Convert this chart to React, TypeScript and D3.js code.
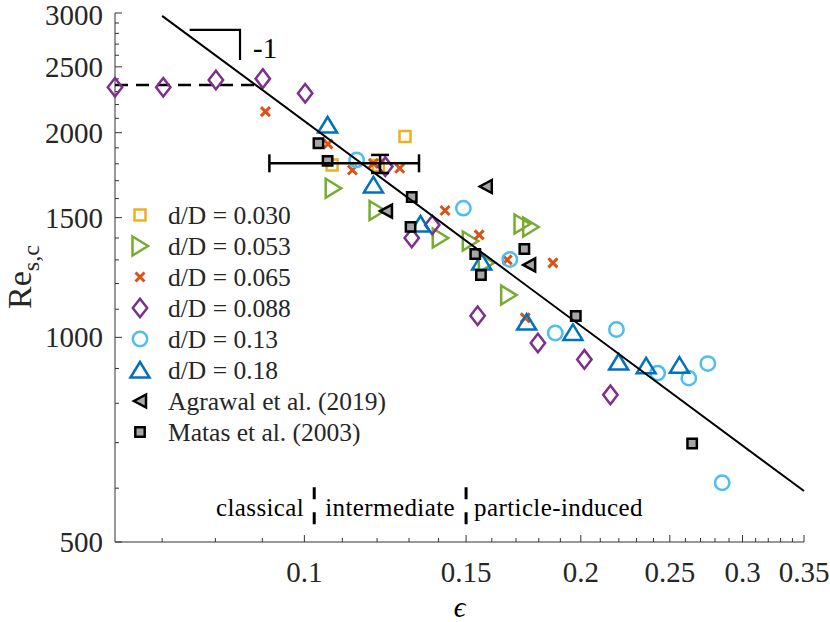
import * as d3 from 'd3';
import React, { useEffect, useRef } from 'react';

type Pt = [number, number];

// [epsilon, Re_s,c]
const dD030: Pt[] = [[0.1287, 1974], [0.1072, 1793], [0.1204, 1790]];
const dD053: Pt[] = [
  [0.1075, 1657], [0.12, 1537], [0.1406, 1400], [0.1516, 1386], [0.1578, 1287],
  [0.1726, 1468], [0.1764, 1453], [0.1669, 1154],
];
const dD065: Pt[] = [
  [0.0907, 2148], [0.1061, 1925], [0.1128, 1763], [0.1189, 1803], [0.127, 1773],
  [0.1423, 1537], [0.155, 1415], [0.1663, 1300], [0.1865, 1287], [0.174, 1068],
];
const dD088: Pt[] = [
  [0.0622, 2333], [0.0702, 2333], [0.0801, 2391], [0.0901, 2402], [0.1002, 2286],
  [0.1225, 1783], [0.1378, 1463], [0.1309, 1400], [0.1544, 1076], [0.1796, 981],
  [0.2018, 928], [0.2154, 823],
];
const dD13: Pt[] = [
  [0.114, 1824], [0.149, 1549], [0.1674, 1302], [0.1876, 1015], [0.2187, 1027],
  [0.2425, 886], [0.2622, 871], [0.275, 915], [0.2851, 611],
];
const dD18: Pt[] = [
  [0.106, 2053], [0.1189, 1676], [0.1338, 1468], [0.156, 1291], [0.1746, 1053],
  [0.1961, 1017], [0.2199, 920], [0.2356, 908], [0.2561, 910],
];
const agrawal: Pt[] = [[0.1227, 1534], [0.1576, 1667], [0.1757, 1278]];
const matas: Pt[] = [
  [0.1036, 1930], [0.106, 1818], [0.1309, 1609], [0.1305, 1454], [0.1535, 1326],
  [0.1557, 1235], [0.1736, 1349], [0.1975, 1075], [0.2644, 698],
];

const legendLabels = [
  'd/D = 0.030', 'd/D = 0.053', 'd/D = 0.065', 'd/D = 0.088',
  'd/D = 0.13', 'd/D = 0.18', 'Agrawal et al. (2019)', 'Matas et al. (2003)',
];

const xMajor = [0.1, 0.15, 0.2, 0.25, 0.3, 0.35];
const yMajor = [500, 1000, 1500, 2000, 2500, 3000];

const fitC = 208; // Re = C / eps
const fitRange: Pt = [0.07, 0.35];
const onsetRe = 2350;
const onsetRange: Pt = [0.0622, 0.0885];
const errCenter: Pt = [0.1209, 1803];
const errEps: Pt = [0.0916, 0.1333];
const errRe: Pt = [1745, 1855];
const slopeTri: Pt[] = [[0.075, 2833], [0.0851, 2833], [0.0851, 2559]];
const regimeBounds = [0.1025, 0.15];
const regimeLabels = ['classical', 'intermediate', 'particle-induced'];
const regimeRe: Pt = [526, 602];

const width = 830;
const height = 622;
const margin = { top: 13, right: 26, bottom: 80, left: 115 };
const font = 'Liberation Serif';

const shapes: Record<string, string> = {
  square: 'M-5.5,-5.5H5.5V5.5H-5.5Z',
  right: 'M-7.5,-9.5L8,0L-7.5,9.5Z',
  cross: 'M-4.5,-4.5L4.5,4.5M-4.5,4.5L4.5,-4.5',
  diamond: 'M0,-9.3L7.2,0L0,9.3L-7.2,0Z',
  circle: 'M7.2,0A7.2,7.2 0 1,1 -7.2,0A7.2,7.2 0 1,1 7.2,0Z',
  up: 'M-9.5,7.5L0,-8L9.5,7.5Z',
  left: 'M6,-6.5L-6,0L6,6.5Z',
  msq: 'M-4.7,-4.7H4.7V4.7H-4.7Z',
};

const series = [
  { data: dD030, shape: 'square', stroke: '#EDB120', fill: 'none', sw: 2.5 },
  { data: dD053, shape: 'right', stroke: '#77AC30', fill: 'none', sw: 2.5 },
  { data: dD065, shape: 'cross', stroke: '#D95319', fill: 'none', sw: 3 },
  { data: dD088, shape: 'diamond', stroke: '#7E2F8E', fill: 'none', sw: 2.5 },
  { data: dD13, shape: 'circle', stroke: '#4DBEEE', fill: 'none', sw: 2.5 },
  { data: dD18, shape: 'up', stroke: '#0072BD', fill: 'none', sw: 2.5 },
  { data: agrawal, shape: 'left', stroke: '#000', fill: '#a6a6a6', sw: 2.5 },
  { data: matas, shape: 'msq', stroke: '#000', fill: '#a6a6a6', sw: 2.5 },
];

const App: React.FC = () => {
  const ref = useRef<SVGSVGElement>(null);
  useEffect(() => {
    const svg = d3.select(ref.current);
    svg.selectAll('*').remove();
    const x = d3.scaleLog().domain([0.0622, 0.35]).range([margin.left, width - margin.right]);
    const y = d3.scaleLog().domain([500, 3000]).range([height - margin.bottom, margin.top]);
    const x0 = margin.left;
    const y0 = height - margin.bottom;

    // axes
    const ax = svg.append('g').attr('stroke', '#333').attr('stroke-width', 1);
    ax.append('line').attr('x1', x0).attr('x2', x(0.35)).attr('y1', y0).attr('y2', y0);
    ax.append('line').attr('x1', x0).attr('x2', x0).attr('y1', y0).attr('y2', y(3000));
    const xMinor = d3.range(7, 36).map((d) => d / 100);
    xMinor.forEach((t) => {
      const major = xMajor.some((m) => Math.abs(m - t) < 1e-9);
      ax.append('line').attr('x1', x(t)).attr('x2', x(t)).attr('y1', y0).attr('y2', y0 - (major ? 7 : 4));
    });
    const yMinor = d3.range(5, 31).map((d) => d * 100);
    yMinor.forEach((t) => {
      const major = yMajor.includes(t);
      ax.append('line').attr('x1', x0).attr('x2', x0 + (major ? 7 : 4)).attr('y1', y(t)).attr('y2', y(t));
    });
    svg
      .append('g')
      .selectAll('text')
      .data(xMajor)
      .join('text')
      .attr('x', (d) => x(d))
      .attr('y', y0 + 40)
      .attr('text-anchor', 'middle')
      .style('font-family', font)
      .attr('font-size', 29)
      .attr('fill', '#262626')
      .text((d) => String(d));
    svg
      .append('g')
      .selectAll('text')
      .data(yMajor)
      .join('text')
      .attr('x', x0 - 12)
      .attr('y', (d) => y(d) + (d === 3000 ? 2 : 0))
      .attr('dy', '0.34em')
      .attr('text-anchor', 'end')
      .style('font-family', font)
      .attr('font-size', 29)
      .attr('fill', '#262626')
      .text((d) => String(d));

    // axis titles
    svg
      .append('text')
      .attr('x', (x0 + x(0.35)) / 2)
      .attr('y', 617)
      .attr('text-anchor', 'middle')
      .style('font-family', font)
      .attr('font-size', 29)
      .attr('font-style', 'italic')
      .text('\u03f5');
    const yl = svg
      .append('text')
      .attr('transform', `translate(31,${(y(1000) + y(2000)) / 2 + 42}) rotate(-90)`)
      .attr('text-anchor', 'middle')
      .style('font-family', font)
      .attr('font-size', 34)
      .attr('fill', '#262626');
    yl.append('tspan').text('Re');
    yl.append('tspan').attr('font-size', 24).attr('dy', 8).text('s,c');

    // onset plateau
    svg
      .append('line')
      .attr('x1', x(onsetRange[0]))
      .attr('x2', x(onsetRange[1]))
      .attr('y1', y(onsetRe))
      .attr('y2', y(onsetRe))
      .attr('stroke', '#000')
      .attr('stroke-width', 2.5)
      .attr('stroke-dasharray', '13,8');

    // markers
    series.forEach((s) => {
      svg
        .append('g')
        .selectAll('path')
        .data(s.data)
        .join('path')
        .attr('transform', (d) => `translate(${x(d[0])},${y(d[1])})`)
        .attr('d', shapes[s.shape])
        .attr('fill', s.fill)
        .attr('stroke', s.stroke)
        .attr('stroke-width', s.sw);
    });

    // error bar
    const eb = svg.append('g').attr('stroke', '#000').attr('stroke-width', 2.5);
    const cx = x(errCenter[0]);
    const cy = y(errCenter[1]);
    eb.append('line').attr('x1', x(errEps[0])).attr('x2', x(errEps[1])).attr('y1', cy).attr('y2', cy);
    errEps.forEach((e) => eb.append('line').attr('x1', x(e)).attr('x2', x(e)).attr('y1', cy - 9).attr('y2', cy + 9));
    eb.append('line').attr('x1', cx).attr('x2', cx).attr('y1', y(errRe[0])).attr('y2', y(errRe[1]));
    errRe.forEach((r) => eb.append('line').attr('x1', cx - 9).attr('x2', cx + 9).attr('y1', y(r)).attr('y2', y(r)));

    // fit line Re = C/eps
    const fit = d3
      .line<number>()
      .x((d) => x(d))
      .y((d) => y(fitC / d));
    svg
      .append('path')
      .datum(fitRange)
      .attr('fill', 'none')
      .attr('stroke', '#000')
      .attr('stroke-width', 2)
      .attr('d', fit);

    // slope indicator
    svg
      .append('path')
      .datum(slopeTri)
      .attr('fill', 'none')
      .attr('stroke', '#000')
      .attr('stroke-width', 2.2)
      .attr('d', d3.line<Pt>().x((d) => x(d[0])).y((d) => y(d[1])));
    svg
      .append('text')
      .attr('x', x(slopeTri[1][0]) + 13)
      .attr('y', y(slopeTri[2][1]) - 2)
      .style('font-family', font)
      .attr('font-size', 29)
      .text('-1');

    // regime separators and labels
    regimeBounds.forEach((b) => {
      svg
        .append('line')
        .attr('x1', x(b))
        .attr('x2', x(b))
        .attr('y1', y(regimeRe[1]))
        .attr('y2', y(regimeRe[0]))
        .attr('stroke', '#000')
        .attr('stroke-width', 3)
        .attr('stroke-dasharray', '12,13');
    });
    const ry = y(regimeRe[0]) - 11;
    const rt = svg.append('g').style('font-family', font).attr('font-size', 25).attr('letter-spacing', 0.4);
    rt.append('text').attr('x', x(regimeBounds[0]) - 10).attr('y', ry).attr('text-anchor', 'end').text(regimeLabels[0]);
    rt.append('text')
      .attr('x', (x(regimeBounds[0]) + x(regimeBounds[1])) / 2)
      .attr('y', ry)
      .attr('text-anchor', 'middle')
      .text(regimeLabels[1]);
    rt.append('text').attr('x', x(regimeBounds[1]) + 8).attr('y', ry).attr('text-anchor', 'start').text(regimeLabels[2]);

    // legend
    const lg = svg.append('g').attr('transform', 'translate(140,215)');
    legendLabels.forEach((lab, i) => {
      const s = series[i];
      const row = lg.append('g').attr('transform', `translate(0,${i * 31})`);
      row
        .append('path')
        .attr('d', shapes[s.shape])
        .attr('fill', s.fill)
        .attr('stroke', s.stroke)
        .attr('stroke-width', s.sw);
      row
        .append('text')
        .attr('x', 28)
        .attr('dy', '0.34em')
        .style('font-family', font)
        .attr('font-size', 25.5)
        .attr('fill', '#262626')
        .text(lab);
    });
  }, []);
  return (
    <div className="chart-res">
      <svg
        ref={ref}
        width={width}
        height={height}
        style={{ position: 'absolute', left: 0, top: 0, background: '#fff' }}
      ></svg>
    </div>
  );
};

export default App;
